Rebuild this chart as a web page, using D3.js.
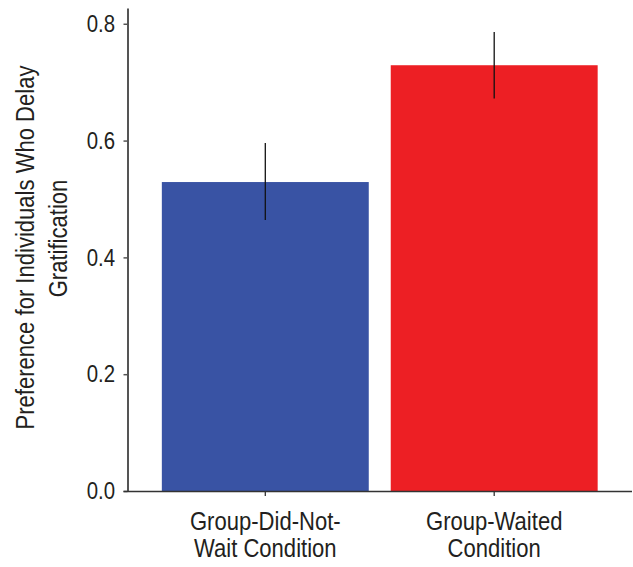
<!DOCTYPE html>
<html>
<head>
<meta charset="utf-8">
<script src="https://cdn.jsdelivr.net/npm/d3@7"></script>
<style>
  html, body { margin: 0; padding: 0; background: #fff; }
  svg text { font-family: "Liberation Sans", Arial, sans-serif; fill: #231f20; }
</style>
</head>
<body>
<div id="chart"></div>
<script>
const conditions = ['Group-Did-Not-Wait Condition', 'Group-Waited Condition'];
const labelLines = [['Group-Did-Not-', 'Wait Condition'], ['Group-Waited', 'Condition']];
const means = [0.529, 0.729];
const errLow = [0.464, 0.672];
const errHigh = [0.596, 0.786];
const barColors = ['#3953a4', '#ed1f24'];
const yTicks = [0, 0.2, 0.4, 0.6, 0.8];
const yLabelLines = ['Preference for Individuals Who Delay', 'Gratification'];

const width = 633, height = 567;
const margin = { top: 8, right: 1, bottom: 76, left: 127.5 };
const innerW = width - margin.left - margin.right;
const innerH = height - margin.top - margin.bottom;
const squeeze = 0.865; // condensed look
const tickSqueeze = 0.85;

const svg = d3.select('#chart')
  .append('svg')
  .attr('width', width)
  .attr('height', height)
  .append('g')
  .attr('transform', `translate(${margin.left},${margin.top})`);

const x = d3.scaleBand()
  .domain(conditions)
  .range([0, innerW])
  .paddingInner(0.096)
  .paddingOuter(0.15);

const y = d3.scaleLinear()
  .domain([0, 0.827])
  .range([innerH, 0]);

// Bars
svg.selectAll('.bar')
  .data(conditions)
  .enter()
  .append('rect')
  .attr('x', d => x(d))
  .attr('y', (d, i) => y(means[i]))
  .attr('width', x.bandwidth())
  .attr('height', (d, i) => innerH - y(means[i]))
  .attr('fill', (d, i) => barColors[i]);

// Error bars
svg.selectAll('.err')
  .data(conditions)
  .enter()
  .append('line')
  .attr('x1', d => x(d) + x.bandwidth() / 2)
  .attr('x2', d => x(d) + x.bandwidth() / 2)
  .attr('y1', (d, i) => y(errLow[i]))
  .attr('y2', (d, i) => y(errHigh[i]))
  .attr('stroke', '#111')
  .attr('stroke-width', 1.3);

// Y axis
svg.append('g')
  .call(d3.axisLeft(y).tickValues(yTicks).tickFormat(d3.format('.1f')).tickSize(4).tickSizeOuter(0))
  .call(g => g.select('.domain').attr('stroke', '#555').attr('stroke-width', 2))
  .call(g => g.selectAll('.tick line').attr('stroke', '#555').attr('stroke-width', 1.5))
  .call(g => g.selectAll('.tick text')
    .attr('x', -12.5 / tickSqueeze)
    .attr('transform', `scale(${tickSqueeze},1)`)
    .style('font-size', '24px'));

// X axis
const xAxis = svg.append('g')
  .attr('transform', `translate(0,${innerH})`)
  .call(d3.axisBottom(x).tickSize(5).tickSizeOuter(0).tickFormat(''))
  .call(g => g.select('.domain').attr('stroke', '#333').attr('stroke-width', 1.3).attr('d', `M-4,0.5H${innerW}`))
  .call(g => g.selectAll('.tick line').attr('stroke', '#333').attr('stroke-width', 1.3));

xAxis.selectAll('.tick')
  .append('text')
  .attr('text-anchor', 'middle')
  .attr('transform', `scale(${squeeze},1)`)
  .style('font-size', '25.5px')
  .selectAll('tspan')
  .data((d, i) => labelLines[i])
  .enter()
  .append('tspan')
  .attr('x', 0)
  .attr('y', (d, i) => 39 + i * 27)
  .text(d => d);

// Y label
const yLabelCenters = [247.5, 238.5];
svg.append('text')
  .attr('transform', `rotate(-90) scale(${squeeze},1)`)
  .attr('text-anchor', 'middle')
  .style('font-size', '25.5px')
  .selectAll('tspan')
  .data(yLabelLines)
  .enter()
  .append('tspan')
  .attr('x', (d, i) => -(yLabelCenters[i] - margin.top) / squeeze)
  .attr('y', (d, i) => -margin.left + 34.3 + i * 32.2)
  .text(d => d);
</script>
</body>
</html>
